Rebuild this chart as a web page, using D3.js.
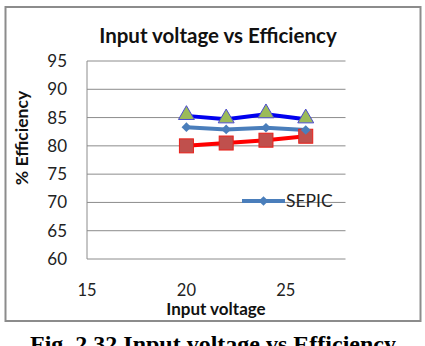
<!DOCTYPE html>
<html>
<head>
<meta charset="utf-8">
<script src="https://cdn.jsdelivr.net/npm/d3@7"></script>
<style>
  body { margin: 0; background: #fff; }
  svg { display: block; }
</style>
</head>
<body>
<svg id="chart"></svg>
<script>
// Data
const voltages = [20, 22, 24, 26];
const sepic = [83.3, 82.9, 83.2, 82.8];
const triSeries = [85.3, 84.7, 85.6, 84.7];
const redSeries = [80.0, 80.5, 81.0, 81.7];
const yTicks = [60, 65, 70, 75, 80, 85, 90, 95];
const xTicks = [15, 20, 25];

const width = 425, height = 346;
const font = "Lato, 'Open Sans', sans-serif";

const svg = d3.select("#chart")
    .attr("width", width)
    .attr("height", height);

// Chart frame
svg.append("rect")
    .attr("x", 5.5).attr("y", 7)
    .attr("width", 415).attr("height", 314)
    .attr("fill", "#fff")
    .attr("stroke", "#8c8c8c")
    .attr("stroke-width", 2);

// Scales
const x = d3.scaleLinear().domain([15, 28]).range([87, 345.5]);
const y = d3.scaleLinear().domain([60, 95]).range([259, 61]);

// Horizontal gridlines
svg.append("g").selectAll("line")
    .data(yTicks)
    .enter()
    .append("line")
    .attr("x1", x(15)).attr("x2", x(28))
    .attr("y1", d => y(d)).attr("y2", d => y(d))
    .attr("stroke", "#8c8c8c")
    .attr("stroke-width", 1);

// Left axis line
svg.append("line")
    .attr("x1", x(15)).attr("x2", x(15))
    .attr("y1", y(95)).attr("y2", y(60))
    .attr("stroke", "#8c8c8c");

// Y tick labels
svg.append("g").selectAll("text")
    .data(yTicks)
    .enter()
    .append("text")
    .attr("x", 67)
    .attr("y", d => y(d))
    .attr("dy", "0.35em")
    .attr("text-anchor", "end")
    .attr("font-family", font)
    .attr("font-size", "17px")
    .attr("fill", "#222")
    .text(d => d);

// X tick labels
svg.append("g").selectAll("text")
    .data(xTicks)
    .enter()
    .append("text")
    .attr("x", d => x(d))
    .attr("y", 290)
    .attr("dy", "0.35em")
    .attr("text-anchor", "middle")
    .attr("font-family", font)
    .attr("font-size", "16.5px")
    .attr("fill", "#222")
    .text(d => d);

// Titles
svg.append("text")
    .attr("x", 218).attr("y", 43)
    .attr("text-anchor", "middle")
    .attr("font-family", font)
    .attr("font-weight", "bold")
    .attr("font-size", "20.5px")
    .attr("fill", "#111")
    .text("Input voltage vs Efficiency");

svg.append("text")
    .attr("x", 216).attr("y", 315)
    .attr("text-anchor", "middle")
    .attr("font-family", font)
    .attr("font-weight", "bold")
    .attr("font-size", "17px")
    .attr("fill", "#111")
    .text("Input voltage");

svg.append("text")
    .attr("transform", "translate(28,138) rotate(-90)")
    .attr("text-anchor", "middle")
    .attr("font-family", font)
    .attr("font-weight", "bold")
    .attr("font-size", "17.5px")
    .attr("fill", "#111")
    .text("% Efficiency");

// Lines
const line = d3.line()
    .x((d, i) => x(voltages[i]))
    .y(d => y(d));

svg.append("path")
    .datum(redSeries)
    .attr("d", line)
    .attr("fill", "none")
    .attr("stroke", "#ff0000")
    .attr("stroke-width", 4);

svg.append("path")
    .datum(sepic)
    .attr("d", line)
    .attr("fill", "none")
    .attr("stroke", "#4a7ebb")
    .attr("stroke-width", 4);

svg.append("path")
    .datum(triSeries)
    .attr("d", line)
    .attr("fill", "none")
    .attr("stroke", "#0000ee")
    .attr("stroke-width", 4);

// Markers: red squares
svg.append("g").selectAll("rect")
    .data(redSeries)
    .enter()
    .append("rect")
    .attr("x", (d, i) => x(voltages[i]) - 7)
    .attr("y", d => y(d) - 7)
    .attr("width", 14).attr("height", 14)
    .attr("fill", "#c0504d")
    .attr("stroke", "#e8201a")
    .attr("stroke-width", 1);

// Markers: SEPIC diamonds
const diamond = d3.symbol().type(d3.symbolDiamond2).size(60);
svg.append("g").selectAll("path")
    .data(sepic)
    .enter()
    .append("path")
    .attr("d", diamond)
    .attr("transform", (d, i) => `translate(${x(voltages[i])},${y(d)})`)
    .attr("fill", "#4a7ebb");

// Markers: green triangles
const triangle = d3.symbol().type(d3.symbolTriangle).size(110);
svg.append("g").selectAll("path")
    .data(triSeries)
    .enter()
    .append("path")
    .attr("d", triangle)
    .attr("transform", (d, i) => `translate(${x(voltages[i])},${y(d) - 1})`)
    .attr("fill", "#9bbb59")
    .attr("stroke", "#4a4ad0")
    .attr("stroke-width", 1);

// Legend (only SEPIC visible)
const legend = svg.append("g").attr("transform", "translate(242,201)");
legend.append("line")
    .attr("x1", 0).attr("x2", 43)
    .attr("y1", 0).attr("y2", 0)
    .attr("stroke", "#4a7ebb")
    .attr("stroke-width", 4);
legend.append("path")
    .attr("d", diamond)
    .attr("transform", "translate(21.5,0)")
    .attr("fill", "#4a7ebb");
legend.append("text")
    .attr("x", 44)
    .attr("y", 0)
    .attr("dy", "0.35em")
    .attr("font-family", font)
    .attr("font-size", "17.5px")
    .attr("fill", "#222")
    .text("SEPIC");

// Figure caption (cut off at the bottom, as in the source figure)
svg.append("text")
    .attr("x", 213).attr("y", 352)
    .attr("text-anchor", "middle")
    .attr("font-family", "'Liberation Serif', 'DejaVu Serif', serif")
    .attr("font-weight", "bold")
    .attr("font-size", "24px")
    .attr("fill", "#000")
    .text("Fig. 2.32 Input voltage vs Efficiency");
</script>
</body>
</html>
